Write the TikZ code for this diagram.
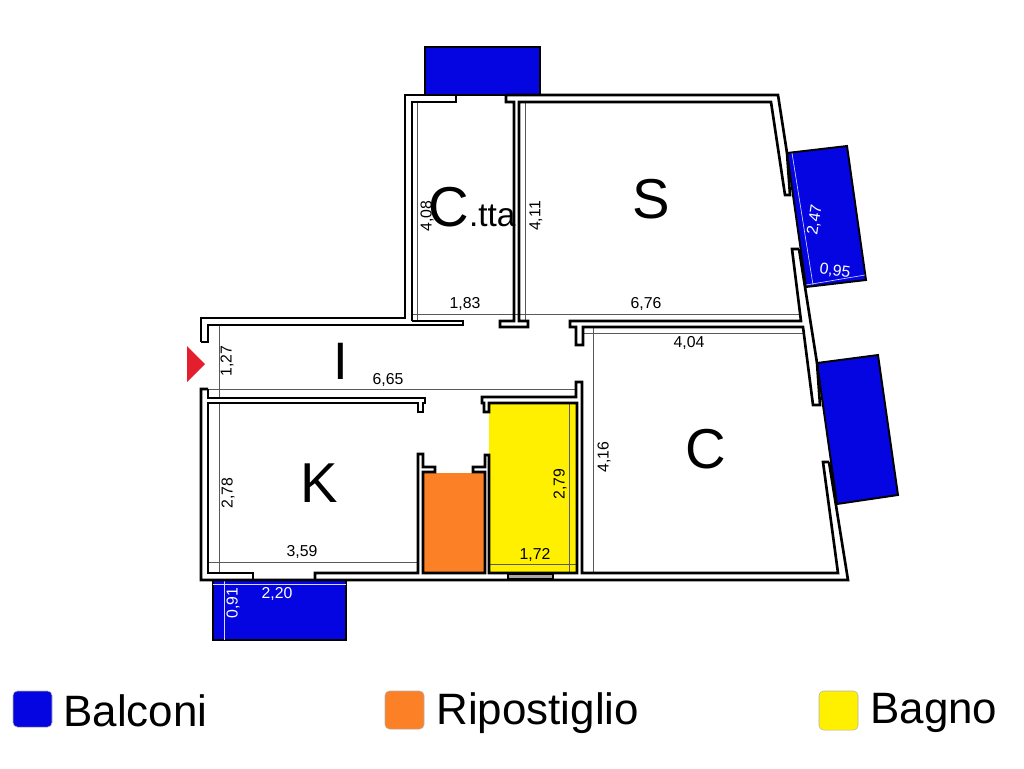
\documentclass[tikz,border=0pt]{standalone}
\usepackage{fontspec}
\setmainfont{Liberation Sans}
\definecolor{balcblue}{RGB}{5,5,225}
\definecolor{ripoorange}{RGB}{252,128,38}
\definecolor{bagnoyellow}{RGB}{255,240,0}
\definecolor{redmark}{RGB}{228,30,45}
\tikzset{
  wall/.style={line width=1.5pt, line join=miter, black},
  dimline/.style={line width=0.35pt, black!65},
  dimwhite/.style={line width=0.35pt, white!85!blue},
  balcony/.style={draw=black, line width=1.1pt, fill=balcblue},
  dimtext/.style={font=\fontsize{9}{9}\selectfont, inner sep=0pt},
  roomtext/.style={font=\fontsize{32}{32}\selectfont, inner sep=0pt},
  legendtext/.style={font=\fontsize{25}{25}\selectfont, inner sep=0pt, anchor=west},
  legendbox/.style={draw=black!30, line width=0.3pt, rounded corners=2.5pt},
}
\begin{document}
\begin{tikzpicture}[x=0.02cm,y=-0.02cm]
  \useasboundingbox (0,0) rectangle (1024,768);

  % balconies
  \draw[balcony] (425,47) rectangle (540,95);
  \draw[balcony] (787,153) -- (847,146) -- (866,280) -- (806,287) -- cycle;
  \draw[balcony] (817,363) -- (878,355) -- (898,495) -- (837,504) -- cycle;
  \draw[balcony] (213,580) rectangle (346,640);

  % coloured rooms
  \fill[ripoorange] (423,473) rectangle (485,573);
  \fill[bagnoyellow] (489,403) rectangle (577,573);

  % dimension lines
  \draw[dimline] (219,325) -- (219,398);
  \draw[dimline] (208,389) -- (577,389);
  \draw[dimline] (219,403) -- (219,573);
  \draw[dimline] (208,562) -- (418,562);
  \draw[dimline] (417,102) -- (417,322);
  \draw[dimline] (525,102) -- (525,322);
  \draw[dimline] (412,314) -- (801,314);
  \draw[dimline] (583,333) -- (805,333);
  \draw[dimline] (593,327) -- (593,573);
  \draw[dimline] (569,403) -- (569,573);
  \draw[dimline] (489,564) -- (577,564);
  \draw[dimwhite] (213,584) -- (346,584);
  \draw[dimwhite] (224,580) -- (224,640);
  \draw[dimwhite] (792,153) -- (813,285);
  \draw[dimwhite] (806,285) -- (865,275);

  % outer walls
  \draw[wall] (201,342) -- (201,318) -- (405,318) -- (405,95) -- (456,95);
  \draw[wall] (506,95) -- (778,95) -- (787,153);
  \draw[wall] (799,249) -- (817,363);
  \draw[wall] (829,462) -- (848,580) -- (201,580) -- (201,389) -- (208,389);

  % inner walls
  \draw[wall] (201,342) -- (208,342) -- (208,325) -- (411,325);
  \draw[wall] (208,389) -- (208,398) -- (425,398) -- (425,403) -- (423,403) -- (423,412) -- (418,412) -- (418,403) -- (208,403) -- (208,573) -- (253,573) -- (253,580);
  \draw[wall] (315,580) -- (315,573) -- (418,573) -- (418,454) -- (423,454) -- (423,467) -- (435,467) -- (435,472) -- (423,472) -- (423,573) -- (485,573) -- (485,472) -- (473,472) -- (473,467) -- (485,467) -- (485,455) -- (489,455) -- (489,573) -- (577,573) -- (577,403) -- (489,403) -- (489,412) -- (484,412) -- (484,403) -- (482,403) -- (482,397) -- (576,397) -- (576,382) -- (582,382) -- (582,573) -- (838,573) -- (823,462) -- (829,462);

  % C.tta and S
  \draw[wall] (412,321) -- (412,102) -- (456,102) -- (456,95);
  \draw[wall] (411,325) -- (463,325) -- (463,321) -- (412,321);
  \draw[wall] (506,95) -- (506,102) -- (514,102) -- (514,321) -- (500,321) -- (500,327) -- (528,327) -- (528,321) -- (519,321) -- (519,102) -- (771,102) -- (785,195) -- (790,195) -- (787,153);
  \draw[wall] (799,249) -- (792,249) -- (801,321) -- (570,321) -- (570,327) -- (576,327) -- (576,345) -- (583,345) -- (583,327) -- (803,327) -- (813,405) -- (820,405) -- (817,363);

  % window
  \draw[wall, line width=1pt, fill=black!35] (508,574) rectangle (553,579);

  % entrance mark
  \fill[redmark] (187,346) -- (205,364) -- (187,382) -- cycle;

  % rooms
  \node[roomtext] (s_room) at (651,199) {S};
  \node[roomtext] (c_room) at (706,449) {C};
  \node[roomtext] (k_room) at (319,483) {K};
  \node[roomtext, font=\fontsize{30}{30}\selectfont] (i_room) at (341,361) {I};
  \node[inner sep=0pt] (ctta_room) at (472,207) {\fontsize{32}{32}\selectfont C\fontsize{19}{19}\selectfont .tta};

  % dimensions
  \node[dimtext, rotate=90] (d127) at (227,361) {1,27};
  \node[dimtext] (d665) at (388,380) {6,65};
  \node[dimtext, rotate=90] (d278) at (228,493) {2,78};
  \node[dimtext] (d359) at (302,552) {3,59};
  \node[dimtext, white] (d220) at (277,594) {2,20};
  \node[dimtext, white, rotate=90] (d091) at (233,603) {0,91};
  \node[dimtext, rotate=90] (d408) at (427,216) {4,08};
  \node[dimtext, rotate=90] (d411) at (536,216) {4,11};
  \node[dimtext] (d183) at (465,304) {1,83};
  \node[dimtext] (d676) at (646,304) {6,76};
  \node[dimtext] (d404) at (689,343) {4,04};
  \node[dimtext, rotate=90] (d416) at (604,457) {4,16};
  \node[dimtext, rotate=90] (d279) at (560,484) {2,79};
  \node[dimtext] (d172) at (535,555) {1,72};
  \node[dimtext, white, rotate=81] (d247) at (815,220) {2,47};
  \node[dimtext, white, rotate=-8] (d095) at (835,271) {0,95};

  % legend
  \draw[legendbox, fill=balcblue] (13,691) rectangle (52,727);
  \draw[legendbox, fill=ripoorange] (385,691) rectangle (424,729);
  \draw[legendbox, fill=bagnoyellow] (819,691) rectangle (858,730);
  \node[legendtext] (leg_balconi) at (63,711) {Balconi};
  \node[legendtext] (leg_ripostiglio) at (436,713) {Ripostiglio};
  \node[legendtext] (leg_bagno) at (870,713) {Bagno};
\end{tikzpicture}
\end{document}
